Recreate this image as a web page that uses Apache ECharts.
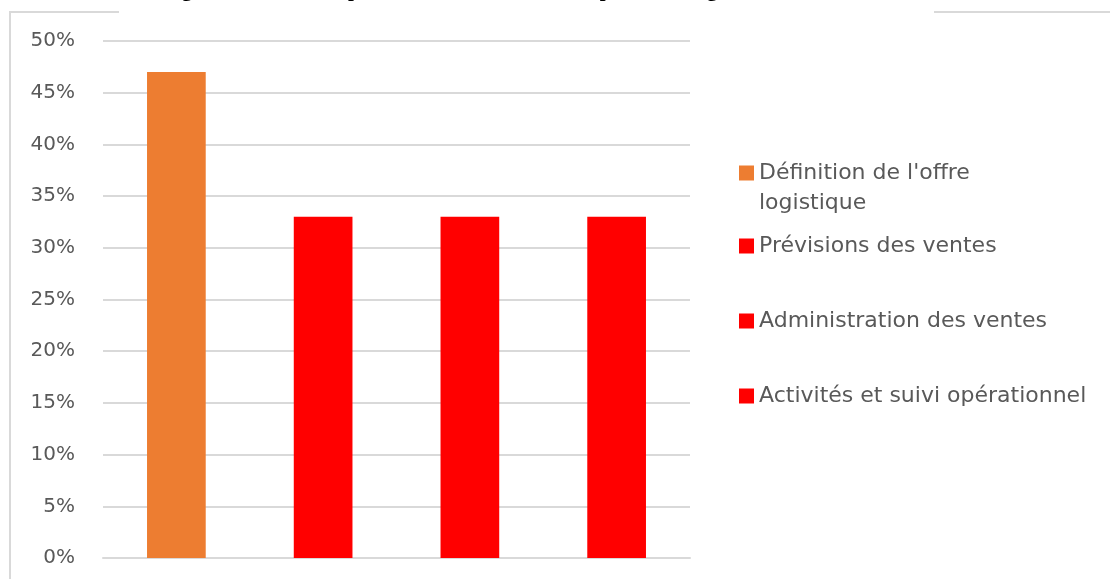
<!DOCTYPE html>
<html>
<head>
<meta charset="utf-8">
<script src="https://cdn.jsdelivr.net/npm/echarts@6/dist/echarts.min.js"></script>
<style>
  html, body { margin: 0; padding: 0; background: #ffffff; }
  #chart { width: 1110px; height: 579px; }
</style>
</head>
<body>
<div id="chart"></div>
<script>
// Processus et part correspondante (en %)
const categories = [
  "Définition de l'offre logistique",
  "Prévisions des ventes",
  "Administration des ventes",
  "Activités et suivi opérationnel"
];
const values = [47, 33, 33, 33];
const colors = ['#ED7D31', '#FF0000', '#FF0000', '#FF0000'];
const yTicks = [0, 5, 10, 15, 20, 25, 30, 35, 40, 45, 50];
const legendCenters = [173, 246, 321, 396];
const titleText = 'Figure 12 : Les sous-processus de ventes touchés par le management';

const chart = echarts.init(document.getElementById('chart'), null, { renderer: 'canvas' });

const fontFamily = '"DejaVu Sans", sans-serif';
const textColor = '#595959';
const gridColor = '#d9d9d9';

// one series per process so that each gets its own legend entry
const series = categories.map((name, i) => ({
  name: name,
  type: 'bar',
  stack: 'all',
  barWidth: '40%',
  itemStyle: { color: colors[i] },
  data: values.map((v, j) => (j === i ? v : '-'))
}));

// one legend block per entry, stacked down the right side
const legends = categories.map((name, i) => {
  const twoLines = name === "Définition de l'offre logistique";
  const lineH = 30;
  const h = twoLines ? lineH * 3 : lineH;
  return {
    orient: 'vertical',
    left: 739,
    top: legendCenters[i] - h / 2,
    padding: 0,
    icon: 'rect',
    itemWidth: 15,
    itemHeight: 15,
    selectedMode: false,
    data: [name],
    formatter: n => (twoLines ? "\nDéfinition de l'offre\nlogistique" : n),
    textStyle: {
      fontFamily: fontFamily,
      fontSize: 22,
      color: textColor,
      lineHeight: lineH
    }
  };
});

const option = {
  backgroundColor: '#ffffff',
  animation: false,
  grid: { left: 103, right: 420, top: 41, bottom: 21, containLabel: false },
  legend: legends,
  xAxis: {
    type: 'category',
    data: categories,
    axisLine: { show: true, lineStyle: { color: gridColor, width: 2 } },
    axisTick: { show: false },
    axisLabel: { show: false }
  },
  yAxis: {
    type: 'value',
    min: yTicks[0],
    max: yTicks[yTicks.length - 1],
    interval: yTicks[1] - yTicks[0],
    axisLine: { show: false },
    axisTick: { show: false },
    splitLine: { lineStyle: { color: gridColor, width: 2 } },
    axisLabel: {
      formatter: '{value}%',
      fontFamily: fontFamily,
      fontSize: 20,
      color: textColor,
      margin: 28
    }
  },
  series: series,
  graphic: [
    {
      type: 'rect',
      z: 0,
      silent: true,
      shape: { x: 10, y: 12, width: 1200, height: 700 },
      style: { fill: 'none', stroke: gridColor, lineWidth: 2 }
    },
    {
      type: 'rect',
      z: 1,
      silent: true,
      shape: { x: 119, y: 0, width: 815, height: 22 },
      style: { fill: '#ffffff' }
    },
    {
      // caption sitting above the frame, only its lowest strokes fall inside the page
      type: 'text',
      z: 2,
      silent: true,
      x: 163,
      y: 1,
      style: {
        text: titleText,
        font: 'bold 21px "Liberation Serif", "Times New Roman", serif',
        fill: '#000000',
        verticalAlign: 'bottom'
      }
    }
  ]
};

chart.setOption(option);
</script>
</body>
</html>
